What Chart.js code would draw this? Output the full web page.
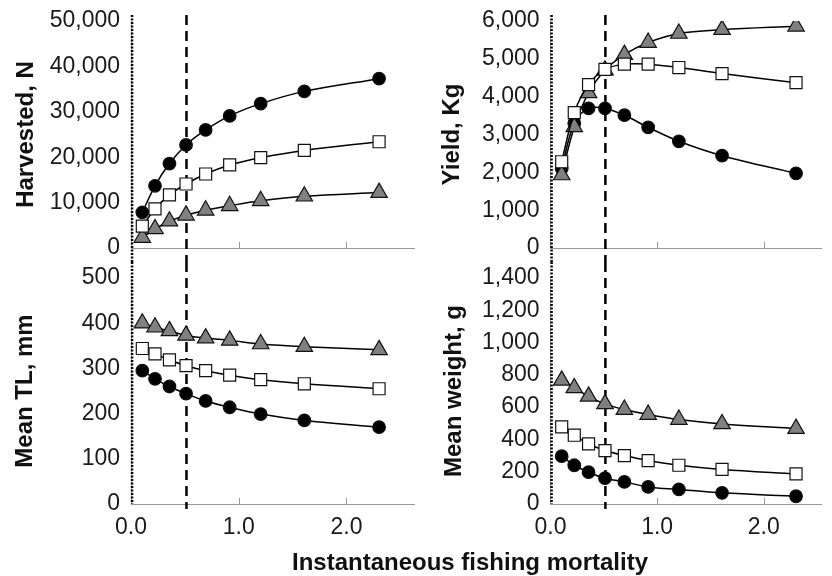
<!DOCTYPE html>
<html lang="en">
<head>
<meta charset="UTF-8" />
<title>Harvest, yield and size vs fishing mortality</title>
<script src="https://cdn.jsdelivr.net/npm/chart.js@4"></script>
<style>
  html, body { margin:0; padding:0; background:#fff; }
  body { width:832px; height:576px; position:relative; overflow:hidden; font-family:'Liberation Sans', Arial, sans-serif; }
  canvas { position:absolute; }
  #xTitle { position:absolute; left:270px; top:548px; width:400px; text-align:center; font-weight:bold; font-size:24px; line-height:28px; color:#111; white-space:nowrap; }
</style>
</head>
<body>
<canvas id="harvest" width="425" height="262" style="left:0;top:0"></canvas>
<canvas id="yield" width="407" height="262" style="left:425px;top:0"></canvas>
<canvas id="length" width="425" height="314" style="left:0;top:262px"></canvas>
<canvas id="weight" width="407" height="314" style="left:425px;top:262px"></canvas>
<div id="xTitle">Instantaneous fishing mortality</div>

<script>
  // instantaneous fishing mortality (x)
  const fishingF = [0.105, 0.223, 0.357, 0.511, 0.693, 0.916, 1.204, 1.609, 2.303];
  const xTicks = [0, 1, 2];
  const dashedF = 0.515;   // vertical dashed reference
  const dottedF = 0.01;    // dotted line at the origin

  // harvested, N
  const harvestCircle   = [7850, 13700, 18600, 22700, 26000, 29100, 31800, 34500, 37300];
  const harvestSquare   = [4800, 8600, 11700, 14100, 16300, 18300, 19900, 21500, 23400];
  const harvestTriangle = [2300, 4200, 5900, 7200, 8300, 9300, 10400, 11400, 12200];
  const harvestTicks = [0, 10000, 20000, 30000, 40000, 50000];

  // yield, kg
  const yieldCircle   = [2100, 3300, 3690, 3690, 3510, 3190, 2820, 2440, 1970];
  const yieldSquare   = [2280, 3580, 4320, 4720, 4860, 4860, 4770, 4610, 4370];
  const yieldTriangle = [1930, 3200, 4100, 4700, 5110, 5430, 5670, 5770, 5860];
  const yieldTicks = [0, 1000, 2000, 3000, 4000, 5000, 6000];

  // mean TL, mm
  const tlCircle   = [295, 277, 260, 244, 228, 214, 199, 185, 170];
  const tlSquare   = [344, 332, 319, 306, 295, 285, 275, 266, 255];
  const tlTriangle = [400, 391, 383, 373, 367, 362, 354, 348, 341];
  const tlTicks = [0, 100, 200, 300, 400, 500];

  // mean weight, g
  const wtCircle   = [296, 240, 197, 160, 137, 106, 90, 69, 48];
  const wtSquare   = [478, 426, 373, 331, 300, 269, 240, 214, 187];
  const wtTriangle = [766, 719, 667, 620, 585, 554, 523, 496, 467];
  const wtTicks = [0, 200, 400, 600, 800, 1000, 1200, 1400];

  const FONT = "'Liberation Sans', Arial, sans-serif";
  const pairs = ys => fishingF.map((x, i) => ({ x, y: ys[i] }));

  // dashed / dotted verticals and the small inward x ticks
  const refLines = {
    id: 'refLines',
    beforeDatasetsDraw(chart, args, o) {
      const { ctx, chartArea: a, scales: { x } } = chart;
      const y0 = o.top ? a.top - 6 : 0;
      const y1 = o.top ? chart.height : a.bottom + 5;
      ctx.save();
      ctx.strokeStyle = '#999'; ctx.lineWidth = 1;
      xTicks.slice(1).forEach(v => {
        const px = Math.round(x.getPixelForValue(v)) + 0.5;
        ctx.beginPath(); ctx.moveTo(px, a.bottom); ctx.lineTo(px, a.bottom - 6); ctx.stroke();
      });
      ctx.strokeStyle = '#000';
      ctx.lineWidth = 2.5; ctx.setLineDash([2, 1.5]);
      let px = x.getPixelForValue(dottedF);
      ctx.beginPath(); ctx.moveTo(px, y0); ctx.lineTo(px, o.top ? y1 : a.bottom); ctx.stroke();
      ctx.lineWidth = 2.5; ctx.setLineDash([10, 6]);
      px = x.getPixelForValue(dashedF);
      ctx.beginPath(); ctx.moveTo(px, y0); ctx.lineTo(px, y1); ctx.stroke();
      ctx.restore();
    }
  };

  function makePanel(id, p) {
    const line = { borderColor:'#000', borderWidth:1.5, tension:0.35, pointBorderColor:'#111', pointBorderWidth:1.2 };
    new Chart(document.getElementById(id), {
      type: 'line',
      data: {
        datasets: [
          Object.assign({ data: pairs(p.square), pointStyle:'rect', pointRadius:8.5, pointBackgroundColor:'#fff' }, line),
          Object.assign({ data: pairs(p.triangle), pointStyle:'triangle', pointRadius:9.5, pointBackgroundColor:'#808080', pointBorderColor:'#333' }, line),
          Object.assign({ data: pairs(p.circle), pointStyle:'circle', pointRadius:6.3, pointBackgroundColor:'#000' }, line)
        ]
      },
      options: {
        responsive: false,
        animation: false,
        devicePixelRatio: 1,
        layout: { padding: { top: p.padTop, right: p.padRight, left: 0, bottom: 0 } },
        plugins: { legend: { display:false }, tooltip: { enabled:false }, refLines: { top: p.top } },
        scales: {
          x: {
            type: 'linear', min: 0, max: p.xMax,
            afterBuildTicks: s => { s.ticks = xTicks.map(v => ({ value: v })); },
            afterFit: s => { s.height = p.xHeight; s.paddingLeft = 0; s.paddingRight = 0; },
            grid: { display:false, drawTicks:false },
            border: { display:true, color:'#999', width:1 },
            ticks: { display: !p.top, padding: 10, color:'#1a1a1a', font: { family: FONT, size: 23 }, callback: v => v.toFixed(1) }
          },
          y: {
            min: 0, max: p.ticks[p.ticks.length - 1],
            afterBuildTicks: s => { s.ticks = p.ticks.map(v => ({ value: v })); },
            afterFit: s => { s.width = p.yWidth; s.paddingTop = 0; s.paddingBottom = 0; },
            grid: { display:false, drawTicks:false },
            border: { display:true, color:'#999', width:1 },
            ticks: { padding: 11, color:'#1a1a1a', font: { family: FONT, size: 23 }, callback: v => v.toLocaleString('en-US') },
            title: { display:true, text: p.title, color:'#111', font: { family: FONT, size: 24, weight:'bold' }, padding: { top: p.titlePad, bottom: 0 } }
          }
        }
      },
      plugins: [refLines]
    });
  }

  makePanel('harvest', { circle: harvestCircle, square: harvestSquare, triangle: harvestTriangle, ticks: harvestTicks,
    title: 'Harvested, N', top: true, xMax: 2.63, yWidth: 131, xHeight: 14, padTop: 21, padRight: 2, titlePad: 12 });
  makePanel('yield', { circle: yieldCircle, square: yieldSquare, triangle: yieldTriangle, ticks: yieldTicks,
    title: 'Yield, Kg', top: true, xMax: 2.54, yWidth: 125.5, xHeight: 14, padTop: 21, padRight: 0, titlePad: 13 });
  makePanel('length', { circle: tlCircle, square: tlSquare, triangle: tlTriangle, ticks: tlTicks,
    title: 'Mean TL, mm', top: false, xMax: 2.63, yWidth: 131, xHeight: 72, padTop: 16, padRight: 2, titlePad: 11 });
  makePanel('weight', { circle: wtCircle, square: wtSquare, triangle: wtTriangle, ticks: wtTicks,
    title: 'Mean weight, g', top: false, xMax: 2.54, yWidth: 125.5, xHeight: 72, padTop: 16, padRight: 0, titlePad: 15 });
</script>
</body>
</html>
